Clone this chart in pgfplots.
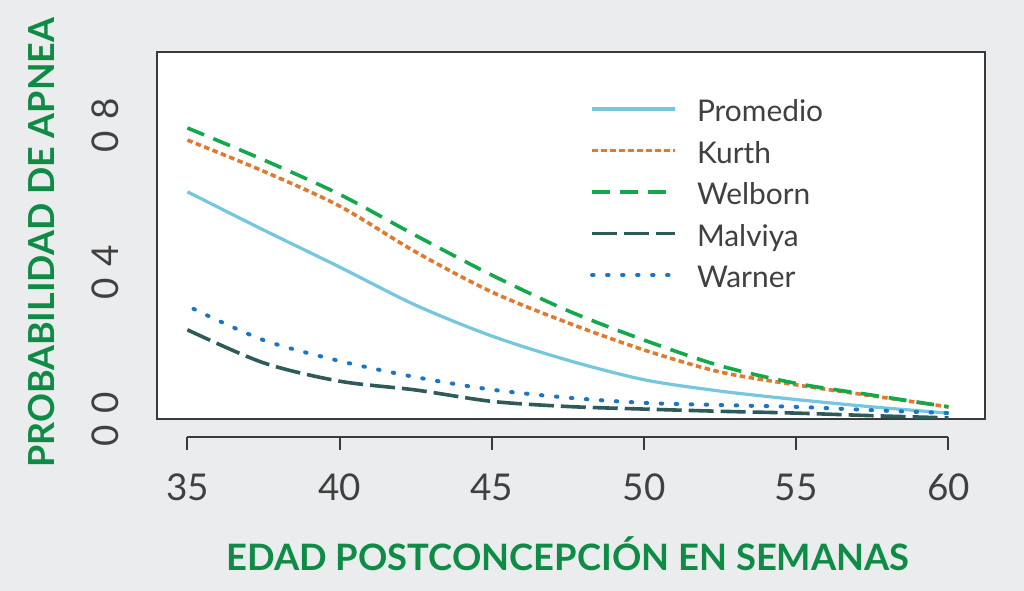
\documentclass[border=0pt]{standalone}
\usepackage{pgfplots}
\pgfplotsset{compat=1.18}
\usepackage{fontspec}
\setmainfont{Lato}
\definecolor{bg}{HTML}{EBECEE}
\definecolor{axisgray}{HTML}{3A3A3A}
\definecolor{ticklab}{HTML}{404040}
\definecolor{labgreen}{HTML}{0E8C45}
\definecolor{cprom}{HTML}{74C7DF}
\definecolor{ckurth}{HTML}{E07A2E}
\definecolor{cwel}{HTML}{12A84B}
\definecolor{cmal}{HTML}{2F5A5A}
\definecolor{cwar}{HTML}{1B75C6}
\begin{document}
\begin{tikzpicture}[x=1bp,y=1bp]
\fill[bg] (0,0) rectangle (1024,591);
\begin{axis}[
  at={(157bp,172bp)}, anchor=south west,
  scale only axis, width=828bp, height=367bp,
  xmin=34, xmax=61.2, ymin=0, ymax=1,
  axis background/.style={fill=white},
  axis line style={draw=axisgray, line width=2.5bp},
  xtick={35,40,45,50,55,60},
  xticklabels={35,40,45,50,55,60},
  ytick={0,0.4,0.8},
  yticklabels={0\hspace{.32em}0, 0\hspace{.32em}4, 0\hspace{.32em}8},
  /pgf/number format/assume math mode=true,
  major tick length=0pt,
  tick label style={font=\fontsize{37}{40}\selectfont, text=ticklab},
  xticklabel style={anchor=base, yshift=-81.5bp},
  yticklabel style={anchor=base, xshift=-38.5bp, rotate=90},
  xlabel={EDAD POSTCONCEPCIÓN EN SEMANAS},
  ylabel={PROBABILIDAD DE APNEA},
  every axis x label/.style={at={(axis description cs:0.4964,-0.413)}, anchor=base, font=\bfseries\fontsize{36.5}{40}\selectfont, text=labgreen},
  every axis y label/.style={at={(axis description cs:-0.1238,0.48)}, anchor=base, rotate=90, font=\bfseries\fontsize{36}{40}\selectfont, text=labgreen},
  clip mode=individual,
  legend image code/.code={\draw[#1] (0bp,13bp) -- (83bp,13bp);},
  legend style={at={(axis description cs:0.523,0.8665)}, anchor=north west,
    inner sep=0pt, outer sep=0pt, draw=none, fill=none,
    font=\fontsize{30}{32}\selectfont, text=ticklab,
    nodes={inner sep=0pt, anchor=base west, text height=21bp, text depth=7bp},
    column sep=20bp, row sep=13.5bp},
  legend cell align=left,
]
\addplot[cprom, line width=3.2bp, smooth, tension=0.5] coordinates {
(35,0.619)(37.5,0.515)(40,0.414)(42.5,0.310)(45,0.226)(47.5,0.160)(50,0.107)(52.5,0.076)(55,0.053)(57.5,0.033)(60,0.016)};
\addlegendentry{Promedio}
\addplot[ckurth, line width=3.6bp, dash pattern=on 5.5bp off 3.5bp, smooth, tension=0.5] coordinates {
(35,0.760)(37.5,0.675)(40,0.580)(42.5,0.455)(45,0.346)(47.5,0.262)(50,0.188)(52.5,0.128)(55,0.093)(57.5,0.063)(60,0.033)};
\addlegendentry{Kurth}
\addplot[cwel, line width=3.6bp, dash pattern=on 18bp off 10bp, smooth, tension=0.5] coordinates {
(35,0.793)(37.5,0.706)(40,0.612)(42.5,0.500)(45,0.392)(47.5,0.295)(50,0.215)(52.5,0.145)(55,0.097)(57.5,0.065)(60,0.033)};
\addlegendentry{Welborn}
\addplot[cmal, line width=3.6bp, dash pattern=on 25bp off 7bp, smooth, tension=0.5] coordinates {
(35,0.243)(37.5,0.153)(40,0.103)(42.5,0.079)(45,0.048)(47.5,0.034)(50,0.027)(52.5,0.021)(55,0.016)(57.5,0.009)(60,0.003)};
\addlegendentry{Malviya}
\addplot[cwar, line width=4bp, line cap=round, dash pattern=on 1.5bp off 13.5bp, smooth, tension=0.5] coordinates {
(35.2,0.300)(37.5,0.215)(40,0.158)(42.5,0.114)(45,0.080)(47.5,0.058)(50,0.044)(52.5,0.038)(55,0.033)(57.5,0.024)(60,0.016)};
\addlegendentry{Warner}
\draw[axisgray, line width=2bp] (axis cs:35,-0.049) -- (axis cs:60,-0.049);
\pgfplotsinvokeforeach{35,40,45,50,55,60}{
  \draw[axisgray, line width=2bp] (axis cs:#1,-0.049) -- (axis cs:#1,-0.0845);
}
\end{axis}
\end{tikzpicture}
\end{document}
